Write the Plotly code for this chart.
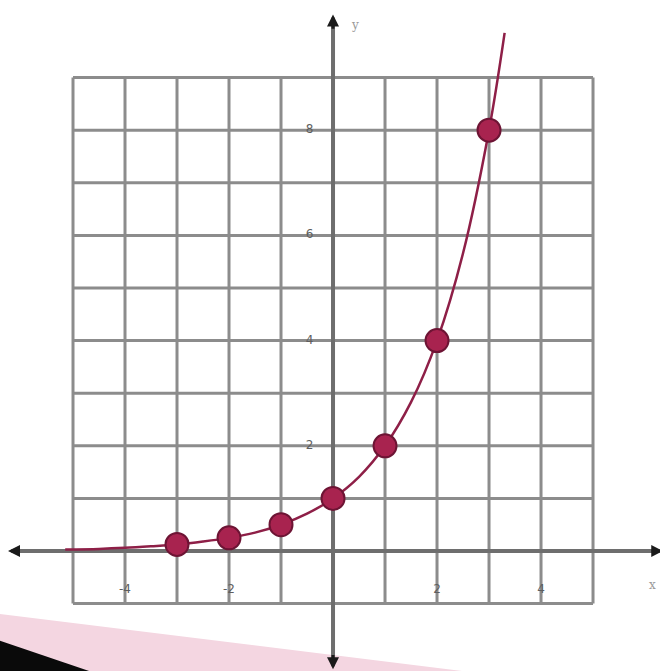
import plotly.graph_objects as go

# points plotted on y = 2^x
pt_x = [-3, -2, -1, 0, 1, 2, 3]
pt_y = [0.125, 0.25, 0.5, 1, 2, 4, 8]

# curve
curve_x = [-5.15, -4.5, -4, -3.5, -3, -2.5, -2, -1.5, -1, -0.5, 0, 0.5, 1, 1.5, 2, 2.5, 3, 3.3]
curve_y = [0.03, 0.04, 0.06, 0.09, 0.125, 0.18, 0.25, 0.35, 0.5, 0.71, 1, 1.41, 2, 2.83, 4, 5.66, 8, 9.85]

grid_vals = [-5, -4, -3, -2, -1, 0, 1, 2, 3, 4, 5]
grid_y_vals = [-1, 0, 1, 2, 3, 4, 5, 6, 7, 8, 9]
x_tick_vals = [-4, -2, 2, 4]
x_tick_text = ["-4", "-2", "2", "4"]
y_tick_vals = [2, 4, 6, 8]
y_tick_text = ["2", "4", "6", "8"]

fig = go.Figure()

shapes = []
# background swoosh at the bottom left
shapes.append(dict(type="path", xref="paper", yref="paper",
                   path="M 0 0.085 L 0.7 0 L 0 0 Z",
                   fillcolor="#f4d6e1", line=dict(width=0), layer="below"))
shapes.append(dict(type="path", xref="paper", yref="paper",
                   path="M 0 0.045 L 0.135 0 L 0 0 Z",
                   fillcolor="#0a0a0a", line=dict(width=0), layer="below"))

# square grid
for v in grid_vals:
    shapes.append(dict(type="line", x0=v, x1=v, y0=-1, y1=9,
                       line=dict(color="#8c8c8c", width=3), layer="below"))
for v in grid_y_vals:
    shapes.append(dict(type="line", x0=-5, x1=5, y0=v, y1=v,
                       line=dict(color="#8c8c8c", width=3), layer="below"))

# main axes
shapes.append(dict(type="line", x0=-6.15, x1=6.25, y0=0, y1=0,
                   line=dict(color="#6e6e6e", width=4), layer="below"))
shapes.append(dict(type="line", x0=0, x1=0, y0=-2.15, y1=10.1,
                   line=dict(color="#6e6e6e", width=4), layer="below"))
fig.update_layout(shapes=shapes)

# arrow heads at the ends of the axes
arrow_style = dict(showarrow=True, arrowhead=2, arrowsize=0.8, arrowwidth=3,
                   arrowcolor="#1a1a1a", text="", axref="x", ayref="y")
fig.add_annotation(x=-6.25, y=0, ax=-6.0, ay=0, **arrow_style)
fig.add_annotation(x=6.35, y=0, ax=6.1, ay=0, **arrow_style)
fig.add_annotation(x=0, y=10.2, ax=0, ay=9.9, **arrow_style)
fig.add_annotation(x=0, y=-2.25, ax=0, ay=-1.95, **arrow_style)

fig.add_trace(go.Scatter(
    x=curve_x, y=curve_y, mode="lines", line_shape="spline",
    line=dict(color="#8e1f47", width=2.5), hoverinfo="skip",
))
fig.add_trace(go.Scatter(
    x=pt_x, y=pt_y, mode="markers",
    marker=dict(size=23, color="#a8234f", line=dict(color="#6d1434", width=2)),
))

fig.add_trace(go.Scatter(
    x=x_tick_vals, y=[-0.74] * len(x_tick_vals), mode="text",
    text=x_tick_text, textfont=dict(size=12, color="#5e5e5e", family="DejaVu Sans"),
    hoverinfo="skip",
))
fig.add_trace(go.Scatter(
    x=[-0.45] * len(y_tick_vals), y=y_tick_vals, mode="text",
    text=y_tick_text, textfont=dict(size=12, color="#5e5e5e", family="DejaVu Sans"),
    hoverinfo="skip",
))
fig.add_annotation(x=0.42, y=10.0, text="y", showarrow=False,
                   font=dict(size=12, color="#9a9a9a", family="DejaVu Serif"))
fig.add_annotation(x=6.15, y=-0.65, text="x", showarrow=False,
                   font=dict(size=12, color="#9a9a9a", family="DejaVu Serif"))

fig.update_layout(
    width=660, height=671,
    margin=dict(l=0, r=0, t=0, b=0),
    plot_bgcolor="white", paper_bgcolor="white",
    showlegend=False,
    xaxis=dict(range=[-6.404, 6.288], visible=False, fixedrange=True),
    yaxis=dict(range=[-2.281, 10.475], visible=False, fixedrange=True),
)

# drop the default page margin so the chart sits at the window's corner
fig.write_html("out.html", config={"displayModeBar": False},
               post_script="document.body.style.margin='0';")
